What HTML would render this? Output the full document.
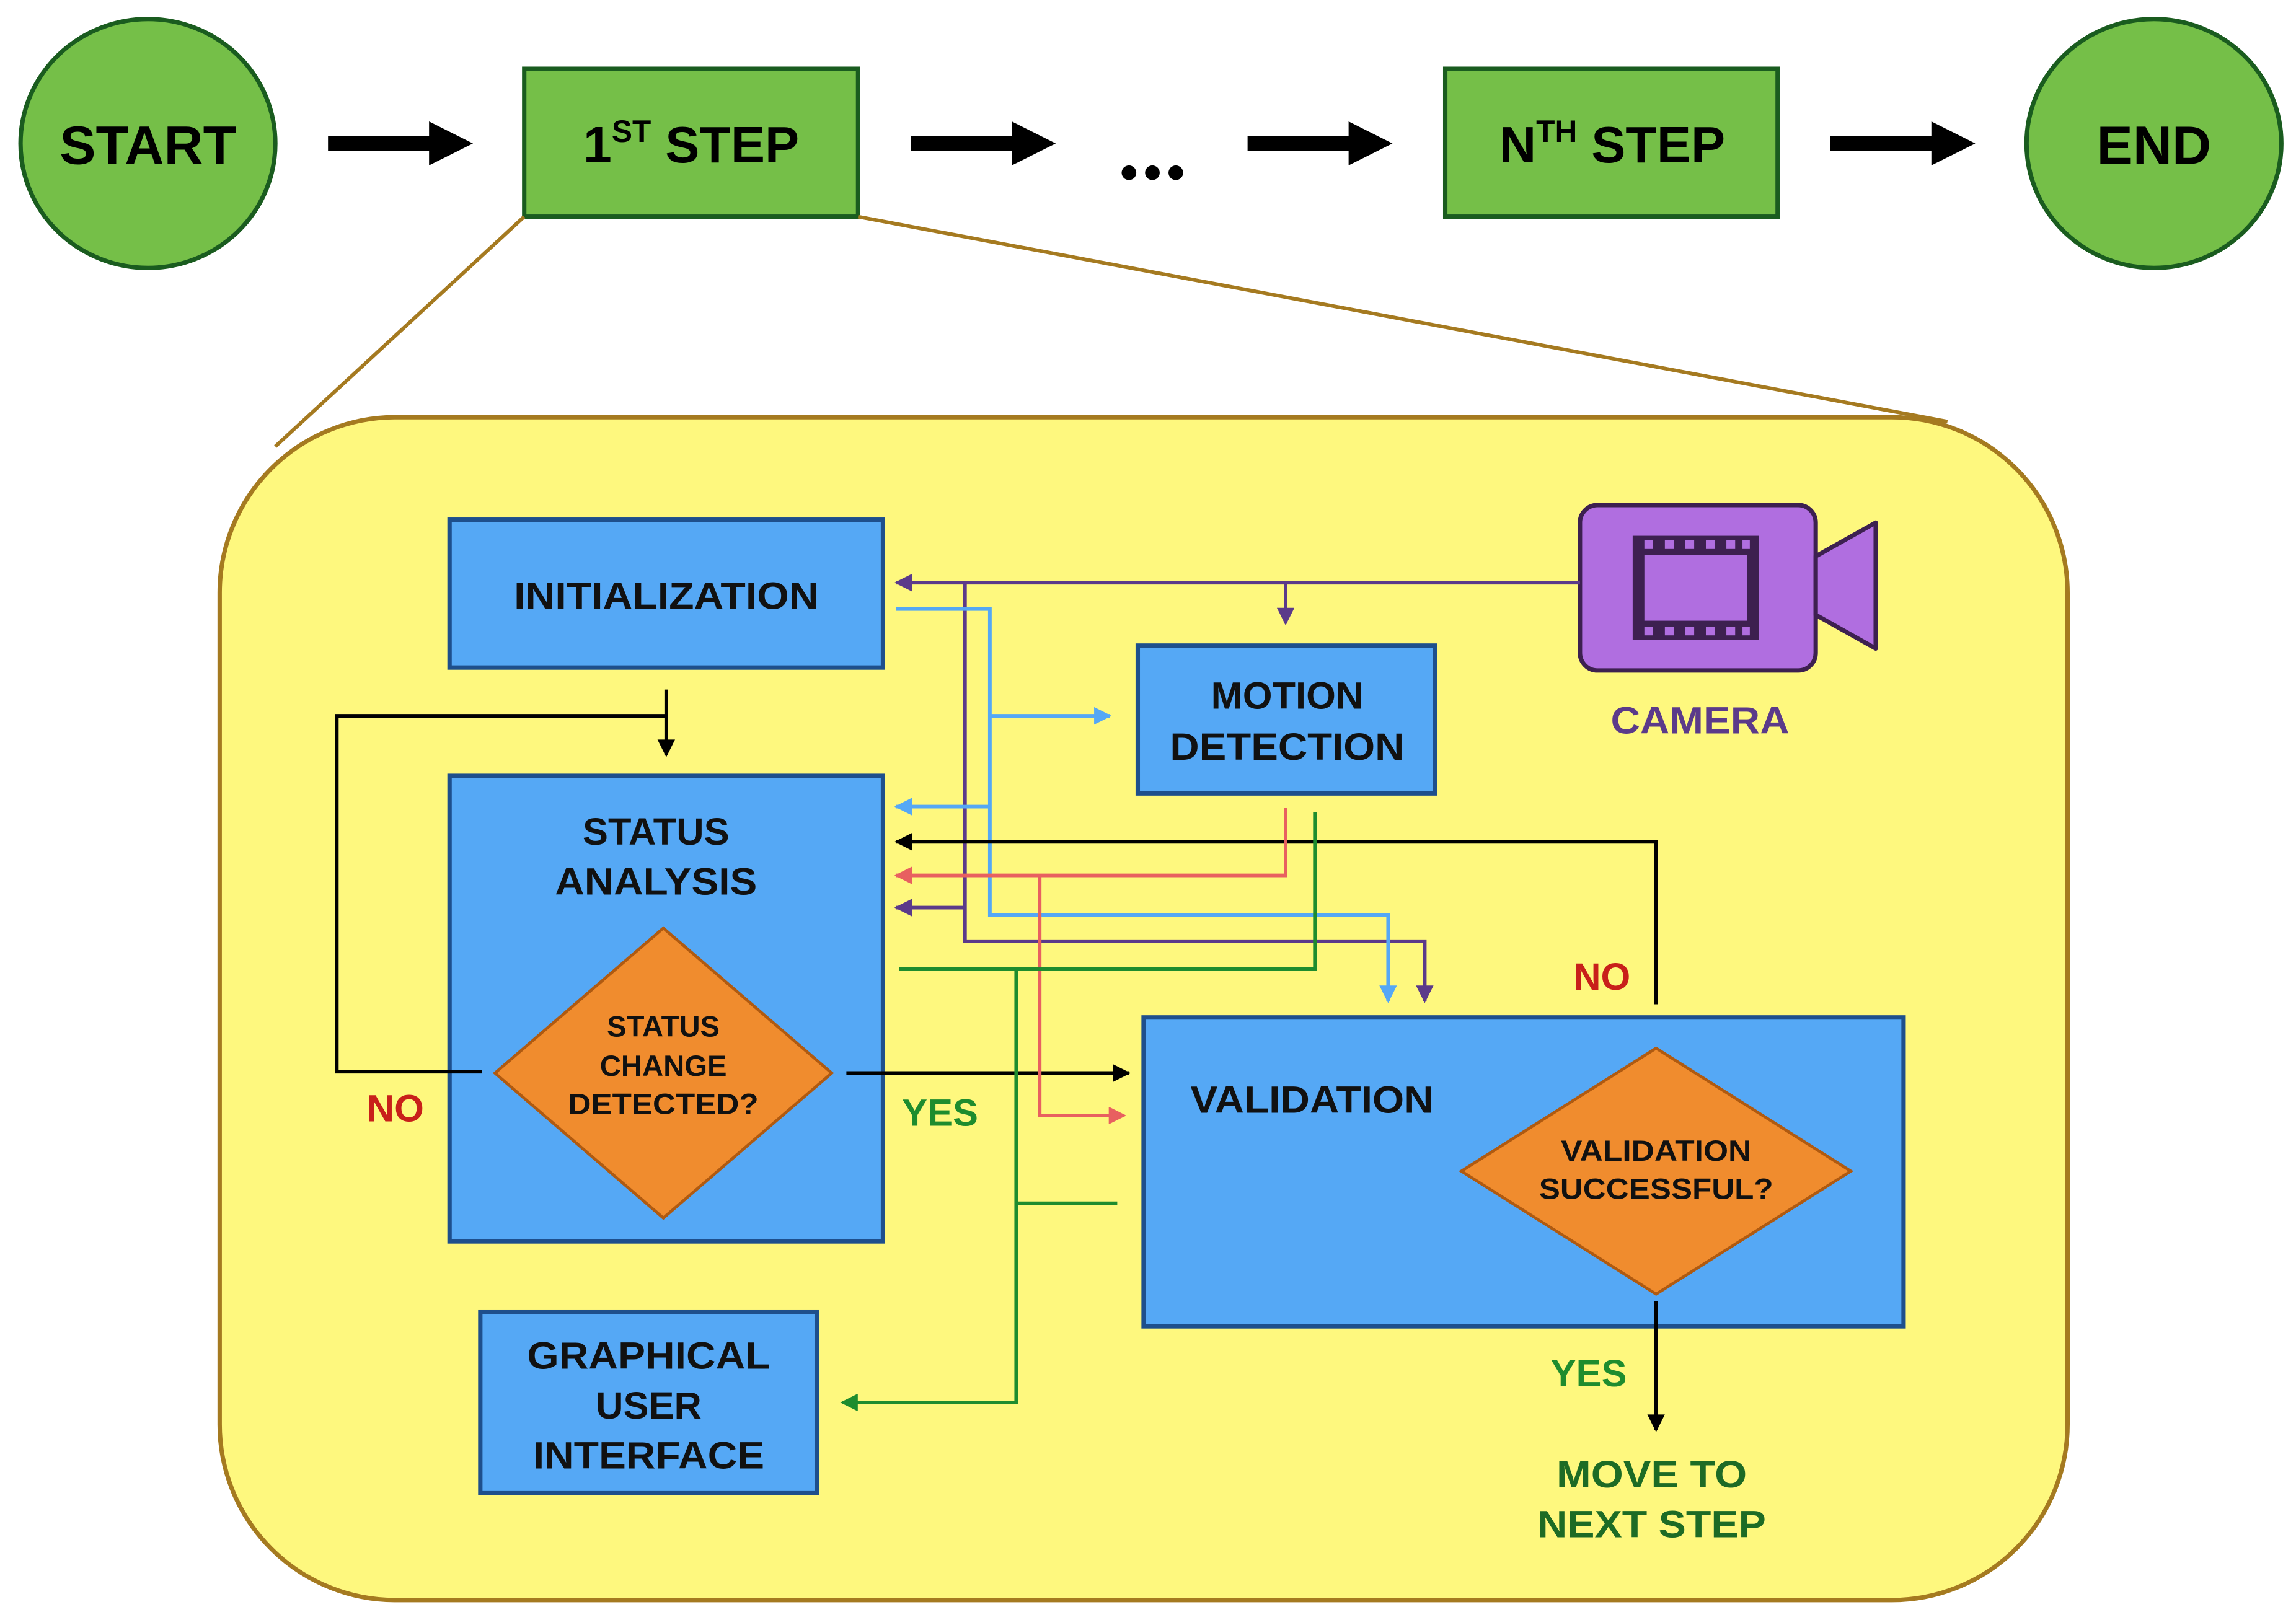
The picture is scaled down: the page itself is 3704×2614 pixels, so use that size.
<!DOCTYPE html>
<html><head><meta charset="utf-8"><style>html,body{margin:0;padding:0;background:#fff}svg{display:block}</style></head><body>
<svg width="3704" height="2614" viewBox="0 0 1568 1106.6" xmlns="http://www.w3.org/2000/svg" font-family="Liberation Sans, sans-serif" font-weight="bold">
<defs>
<marker id="mp" viewBox="0 0 10 10" refX="9" refY="5" markerWidth="13" markerHeight="12" orient="auto" markerUnits="userSpaceOnUse"><path d="M0,0 L10,5 L0,10 z" fill="#5b3a8a"/></marker>
<marker id="mb" viewBox="0 0 10 10" refX="9" refY="5" markerWidth="13" markerHeight="12" orient="auto" markerUnits="userSpaceOnUse"><path d="M0,0 L10,5 L0,10 z" fill="#55a8f5"/></marker>
<marker id="mk" viewBox="0 0 10 10" refX="9" refY="5" markerWidth="13" markerHeight="12" orient="auto" markerUnits="userSpaceOnUse"><path d="M0,0 L10,5 L0,10 z" fill="#000"/></marker>
<marker id="mr" viewBox="0 0 10 10" refX="9" refY="5" markerWidth="13" markerHeight="12" orient="auto" markerUnits="userSpaceOnUse"><path d="M0,0 L10,5 L0,10 z" fill="#e86060"/></marker>
<marker id="mg" viewBox="0 0 10 10" refX="9" refY="5" markerWidth="13" markerHeight="12" orient="auto" markerUnits="userSpaceOnUse"><path d="M0,0 L10,5 L0,10 z" fill="#1e8c2e"/></marker>
</defs>
<!-- top row -->
<ellipse cx="101" cy="98" rx="87" ry="85" fill="#75bf48" stroke="#1a5c1f" stroke-width="3"/>
<text x="101" y="112" font-size="37" text-anchor="middle">START</text>
<ellipse cx="1471" cy="98" rx="87" ry="85" fill="#75bf48" stroke="#1a5c1f" stroke-width="3"/>
<text x="1471" y="112" font-size="37" text-anchor="middle">END</text>
<rect x="358" y="47" width="228" height="101" fill="#75bf48" stroke="#1a5c1f" stroke-width="3"/>
<text x="472" y="111" font-size="35" text-anchor="middle">1<tspan font-size="21" dy="-14">ST</tspan><tspan dy="14"> STEP</tspan></text>
<rect x="987" y="47" width="227" height="101" fill="#75bf48" stroke="#1a5c1f" stroke-width="3"/>
<text x="1101" y="111" font-size="35" text-anchor="middle">N<tspan font-size="21" dy="-14">TH</tspan><tspan dy="14"> STEP</tspan></text>
<g fill="#000">
<path d="M224,93 H293 V83 L323,98 L293,113 V103 H224 Z"/>
<path d="M622,93 H691 V83 L721,98 L691,113 V103 H622 Z"/>
<path d="M852,93 H921 V83 L951,98 L921,113 V103 H852 Z"/>
<path d="M1250,93 H1319 V83 L1349,98 L1319,113 V103 H1250 Z"/>
<circle cx="771" cy="118" r="5"/><circle cx="787" cy="118" r="5"/><circle cx="803" cy="118" r="5"/>
</g>
<!-- zoom lines & container -->
<line x1="358" y1="148" x2="188" y2="305" stroke="#a57a20" stroke-width="2.5"/>
<line x1="586" y1="148" x2="1330" y2="288" stroke="#a57a20" stroke-width="2.5"/>
<rect x="150" y="285" width="1262" height="808" rx="120" ry="120" fill="#fef87e" stroke="#a57a20" stroke-width="3"/>
<!-- boxes -->
<g fill="#55a8f5" stroke="#1e4f8c" stroke-width="3">
<rect x="307" y="355" width="296" height="101"/>
<rect x="777" y="441" width="203" height="101"/>
<rect x="307" y="530" width="296" height="318"/>
<rect x="781" y="695" width="519" height="211"/>
<rect x="328" y="896" width="230" height="124"/>
</g>
<g fill="#f08c2e" stroke="#b05a10" stroke-width="2">
<polygon points="453,634 568,733 453,832 338,733"/>
<polygon points="1131,716 1264,800 1131,884 998,800"/>
</g>
<g font-size="26" text-anchor="middle" fill="#111">
<text x="455" y="416" textLength="208" lengthAdjust="spacingAndGlyphs">INITIALIZATION</text>
<text x="879" y="484">MOTION</text><text x="879" y="519" textLength="160" lengthAdjust="spacingAndGlyphs">DETECTION</text>
<text x="448" y="577">STATUS</text><text x="448" y="611" textLength="138" lengthAdjust="spacingAndGlyphs">ANALYSIS</text>
<text x="896" y="760" textLength="166" lengthAdjust="spacingAndGlyphs">VALIDATION</text>
<text x="443" y="935" textLength="166" lengthAdjust="spacingAndGlyphs">GRAPHICAL</text><text x="443" y="969">USER</text><text x="443" y="1003" textLength="158" lengthAdjust="spacingAndGlyphs">INTERFACE</text>
</g>
<g font-size="20" text-anchor="middle" fill="#111">
<text x="453" y="708">STATUS</text><text x="453" y="735">CHANGE</text><text x="453" y="761" textLength="130" lengthAdjust="spacingAndGlyphs">DETECTED?</text>
<text x="1131" y="793" textLength="130" lengthAdjust="spacingAndGlyphs">VALIDATION</text><text x="1131" y="819" textLength="160" lengthAdjust="spacingAndGlyphs">SUCCESSFUL?</text>
</g>
<!-- camera -->
<rect x="1079" y="345" width="161" height="113" rx="12" fill="#b06ee0" stroke="#3d2050" stroke-width="3"/>
<polygon points="1240,380 1281,357 1281,443 1240,420" fill="#b06ee0" stroke="#3d2050" stroke-width="3" stroke-linejoin="round"/>
<rect x="1115" y="366" width="86" height="71" fill="#3d2050"/>
<rect x="1123" y="379" width="70" height="45" fill="#b06ee0"/>
<g fill="#b06ee0">
<rect x="1123" y="369" width="6" height="6"/><rect x="1137" y="369" width="6" height="6"/><rect x="1151" y="369" width="6" height="6"/><rect x="1165" y="369" width="6" height="6"/><rect x="1179" y="369" width="6" height="6"/><rect x="1190" y="369" width="5" height="6"/>
<rect x="1123" y="428" width="6" height="6"/><rect x="1137" y="428" width="6" height="6"/><rect x="1151" y="428" width="6" height="6"/><rect x="1165" y="428" width="6" height="6"/><rect x="1179" y="428" width="6" height="6"/><rect x="1190" y="428" width="5" height="6"/>
</g>
<text x="1161" y="501" font-size="26" text-anchor="middle" fill="#5b3a8a" textLength="122" lengthAdjust="spacingAndGlyphs">CAMERA</text>
<!-- connectors -->
<g fill="none" stroke-width="2.5">
<g stroke="#5b3a8a">
<path d="M1079,398 H612" marker-end="url(#mp)"/>
<path d="M878,398 V426" marker-end="url(#mp)"/>
<path d="M659,398 V643 H973 V684" marker-end="url(#mp)"/>
<path d="M659,620 H612" marker-end="url(#mp)"/>
</g>
<g stroke="#55a8f5">
<path d="M612,416 H676 V625 H948 V684" marker-end="url(#mb)"/>
<path d="M676,489 H758" marker-end="url(#mb)"/>
<path d="M676,551 H612" marker-end="url(#mb)"/>
</g>
<g stroke="#000">
<path d="M1131,686 V575 H612" marker-end="url(#mk)"/>
<path d="M455,471 V516" marker-end="url(#mk)"/>
<path d="M455,489 H230 V732 H329"/>
<path d="M578,733 H771" marker-end="url(#mk)"/>
<path d="M1131,889 V977" marker-end="url(#mk)"/>
</g>
<g stroke="#e86060">
<path d="M878,552 V598 H612" marker-end="url(#mr)"/>
<path d="M710,598 V762 H768" marker-end="url(#mr)"/>
</g>
<g stroke="#1e8c2e">
<path d="M898,555 V662 H614"/>
<path d="M694,662 V958 H575" marker-end="url(#mg)"/>
<path d="M694,822 H763"/>
</g>
</g>
<!-- labels -->
<g font-size="26" text-anchor="middle">
<text x="270" y="766" fill="#c8201a">NO</text>
<text x="642" y="769" fill="#1e8c2e">YES</text>
<text x="1094" y="676" fill="#c8201a">NO</text>
<text x="1085" y="947" fill="#1e8c2e">YES</text>
<text x="1128" y="1016" fill="#1d6b25" textLength="130" lengthAdjust="spacingAndGlyphs">MOVE TO</text>
<text x="1128" y="1050" fill="#1d6b25" textLength="156" lengthAdjust="spacingAndGlyphs">NEXT STEP</text>
</g>
</svg>
</body></html>
